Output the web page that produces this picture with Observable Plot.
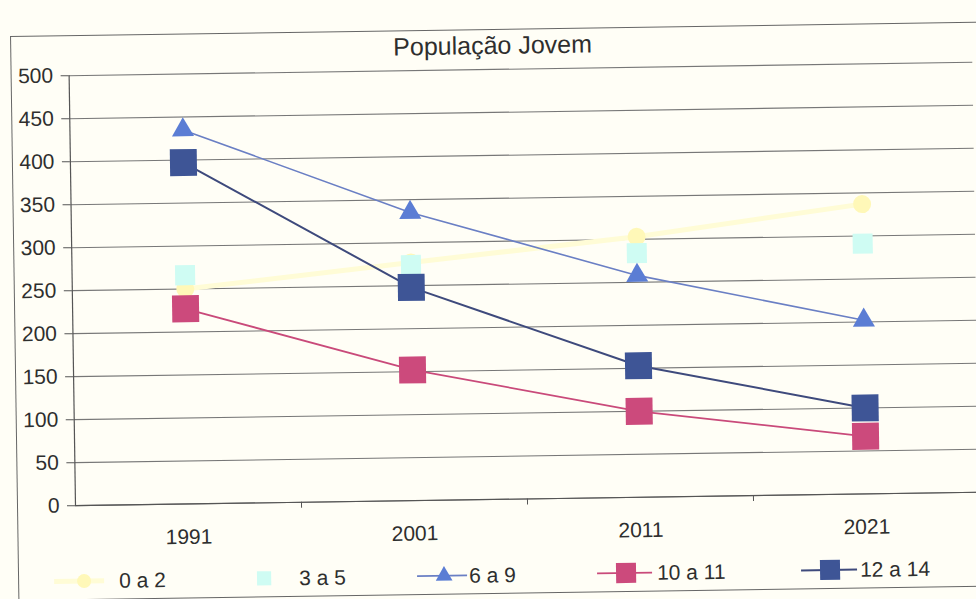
<!DOCTYPE html>
<html>
<head>
<meta charset="utf-8">
<script src="https://cdn.jsdelivr.net/npm/d3@7"></script>
<script src="https://cdn.jsdelivr.net/npm/@observablehq/plot@0.6"></script>
<style>
  html, body { margin: 0; padding: 0; background: #fffef6; overflow: hidden; }
  #page { position: absolute; left: 0; top: 0; width: 976px; height: 599px;
          transform: rotate(-0.85deg); transform-origin: 488px 300px;
          font-family: "Liberation Sans", Arial, sans-serif; color: #2e2e2e; }
  #frame { position: absolute; left: 14px; top: 29px; width: 980px; height: 563px;
           border-left: 1.5px solid #666; border-top: 1.5px solid #666; border-bottom: 1.5px solid #666; }
  #title { position: absolute; left: 397px; top: 31px; font-size: 25px; white-space: nowrap; }
  #chart { position: absolute; left: 0; top: 54px; }
  #legend { position: absolute; left: 0; top: 555px; }
</style>
</head>
<body>
<div id="page">
  <div id="frame"></div>
  <div id="title">População Jovem</div>
  <div id="chart"></div>
  <svg id="legend" width="976" height="40"></svg>
</div>
<script>
// ---- data ----
const years = ["1991", "2001", "2011", "2021"];
const seriesNames = ["0 a 2", "3 a 5", "6 a 9", "10 a 11", "12 a 14"];
const v0a2   = [250, 277, 303, 337];
const v3a5   = [266, 274, 284, 291];
const v6a9   = [435, 335, 258, 202];
const v10a11 = [227, 152, 100, 67];
const v12a14 = [397, 248, 153, 100];
const yTicks = [0, 50, 100, 150, 200, 250, 300, 350, 400, 450, 500];

// ---- styles ----
const styles = [
  {line: "#fffcd6", lineWidth: 5, fill: "#fff8b8", symbol: "circle", r: 9, lr: 7, showLine: true},
  {line: null, lineWidth: 0, fill: "#cffcf3", symbol: "square", r: 11.3, lr: 8, showLine: false},
  {line: "#6a7fc4", lineWidth: 1.6, fill: "#5b7dd4", symbol: "triangle", r: 8.2, lr: 6.2, showLine: true},
  {line: "#c94a7a", lineWidth: 1.8, fill: "#cc4a7c", symbol: "square", r: 15.2, lr: 11.3, showLine: true},
  {line: "#3e4a7c", lineWidth: 2, fill: "#3e5596", symbol: "square", r: 15.2, lr: 11.3, showLine: true}
];
const allValues = [v0a2, v3a5, v6a9, v10a11, v12a14];

const idx = years.map((_, i) => i);
const between = idx.slice(1).map(i => i - 0.5);
const rows = vals => years.map((yr, i) => ({i, year: yr, v: vals[i]}));

const seriesMarks = [];
allValues.forEach((vals, k) => {
  const s = styles[k];
  const data = rows(vals);
  if (s.showLine) seriesMarks.push(Plot.line(data, {x: "i", y: "v", stroke: s.line, strokeWidth: s.lineWidth}));
  seriesMarks.push(Plot.dot(data, {x: "i", y: "v", symbol: s.symbol, r: s.r, fill: s.fill, stroke: "none"}));
});

const chart = Plot.plot({
  width: 976,
  height: 495,
  marginLeft: 72,
  marginRight: 0,
  marginTop: 15,
  marginBottom: 50,
  style: {background: "transparent", fontFamily: "'Liberation Sans', Arial, sans-serif", fontSize: "21px", color: "#2e2e2e"},
  x: {type: "linear", domain: [-0.5, years.length - 0.5]},
  y: {domain: [0, 500]},
  marks: [
    Plot.gridY(yTicks, {stroke: "#777", strokeOpacity: 1, strokeWidth: 1.1}),
    Plot.axisY(yTicks, {tickSize: 8, tickPadding: 8, label: null, stroke: "#555"}),
    Plot.ruleX([-0.5], {stroke: "#555", strokeWidth: 1.2}),
    Plot.ruleY([0], {stroke: "#555", strokeWidth: 1.2}),
    Plot.axisX(between, {tickSize: 6, tickFormat: () => "", label: null, stroke: "#555"}),
    Plot.axisX(idx, {tickSize: 0, tickPadding: 25, tickFormat: i => years[i], label: null}),
    ...seriesMarks
  ]
});
document.getElementById("chart").appendChild(chart);

// ---- legend ----
const legendItems = [
  {lineFrom: 50, lineTo: 100, marker: 80, text: 115},
  {lineFrom: null, lineTo: null, marker: 260, text: 295},
  {lineFrom: 413, lineTo: 463, marker: 440, text: 465},
  {lineFrom: 593, lineTo: 648, marker: 622, text: 653},
  {lineFrom: 797, lineTo: 853, marker: 826, text: 856}
];
const leg = d3.select("#legend");
const cy = 20;
legendItems.forEach((it, k) => {
  const s = styles[k];
  if (s.showLine && it.lineFrom != null) {
    leg.append("line").attr("x1", it.lineFrom).attr("x2", it.lineTo).attr("y1", cy).attr("y2", cy)
      .attr("stroke", s.line).attr("stroke-width", s.lineWidth);
  }
  const sym = s.symbol === "circle" ? d3.symbolCircle : s.symbol === "triangle" ? d3.symbolTriangle : d3.symbolSquare;
  leg.append("path").attr("d", d3.symbol(sym, s.lr * s.lr * Math.PI)())
    .attr("transform", `translate(${it.marker},${cy})`).attr("fill", s.fill);
  leg.append("text").attr("x", it.text).attr("y", cy).attr("dy", "0.35em")
    .attr("font-size", 21).attr("font-family", "'Liberation Sans', Arial, sans-serif")
    .attr("fill", "#2e2e2e").text(seriesNames[k]);
});
</script>
</body>
</html>
